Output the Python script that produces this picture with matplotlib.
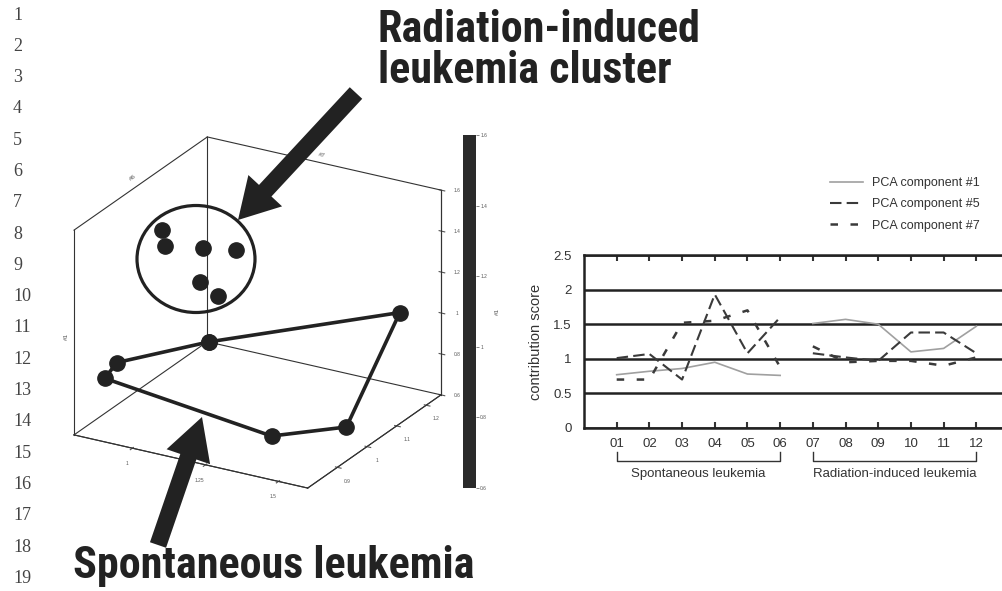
import matplotlib
matplotlib.use('Agg')
import matplotlib.pyplot as plt
import matplotlib.transforms as mtransforms
import numpy as np
from matplotlib.patches import Ellipse, FancyArrow
from matplotlib.colors import ListedColormap, Normalize
from matplotlib.cm import ScalarMappable
from mpl_toolkits.mplot3d import proj3d

W, H = 1002, 591

# left panel: PCA space (#7, #6, #1)
spont_x = [1.07, 1.53, 1.55, 1.39, 0.86, 0.87]
spont_y = [0.99, 1.18, 0.98, 0.885, 0.845, 0.875]
spont_z = [0.95, 1.05, 0.70, 0.70, 0.85, 0.90]
rad_x = [0.95, 0.98, 1.05, 1.14, 1.09, 1.15]
rad_y = [0.95, 0.93, 0.99, 1.01, 0.94, 0.94]
rad_z = [1.50, 1.45, 1.40, 1.40, 1.30, 1.25]
x3_lim = (0.8, 1.6)
y3_lim = (0.8, 1.25)
z3_lim = (0.6, 1.6)
x3_ticks = [1, 1.25, 1.5]
y3_ticks = [0.9, 1.0, 1.1, 1.2]
z3_ticks = [0.6, 0.8, 1.0, 1.2, 1.4, 1.6]
cbar_ticks = [0.6, 0.8, 1.0, 1.2, 1.4, 1.6]

# right panel: contribution scores per sample
samples = ['01', '02', '03', '04', '05', '06', '07', '08', '09', '10', '11', '12']
groups = [('Spontaneous leukemia', 0, 6), ('Radiation-induced leukemia', 6, 12)]
comp1 = [0.77, 0.82, 0.86, 0.95, 0.78, 0.76, 1.51, 1.57, 1.50, 1.10, 1.15, 1.47]
comp5 = [1.01, 1.07, 0.70, 1.93, 1.08, 1.60, 1.08, 1.02, 0.97, 1.38, 1.38, 1.08]
comp7 = [0.70, 0.70, 1.52, 1.55, 1.70, 0.88, 1.18, 0.95, 0.97, 0.97, 0.90, 1.02]

line_numbers = list(range(1, 20))

plt.rcParams['font.family'] = ['Liberation Sans', 'DejaVu Sans']
fig = plt.figure(figsize=(W / 100, H / 100), dpi=100)
fig.patch.set_facecolor('white')
ink = '#222222'


def px(x0, y0, w, h):
    # pixel box (top-left origin) -> figure fraction
    return [x0 / W, 1 - (y0 + h) / H, w / W, h / H]


# ---------- 3D scatter ----------
ax3 = fig.add_axes(px(40, 90, 450, 450), projection='3d', computed_zorder=False)
ax3.set_proj_type('ortho')
ax3.view_init(elev=23.5, azim=-60.3)
ax3.set_box_aspect((1, 1, 0.83))
ax3.set_facecolor('none')
ax3.grid(False)

# box frame (back edges + outline) from the axis limits
x0, x1 = x3_lim
y0, y1 = y3_lim
z0, z1 = z3_lim
edges = [((x0, x1), (y0, y0), (z0, z0)), ((x1, x1), (y0, y1), (z0, z0)),
         ((x0, x1), (y1, y1), (z0, z0)), ((x0, x0), (y0, y1), (z0, z0)),
         ((x0, x0), (y0, y0), (z0, z1)), ((x0, x0), (y1, y1), (z0, z1)),
         ((x1, x1), (y1, y1), (z0, z1)), ((x0, x0), (y0, y1), (z1, z1)),
         ((x0, x1), (y1, y1), (z1, z1))]
for ex, ey, ez in edges:
    ax3.plot(ex, ey, ez, color='#333333', lw=0.8, zorder=1)

ax3.plot(spont_x + spont_x[:1], spont_y + spont_y[:1], spont_z + spont_z[:1],
         color=ink, lw=2.6, marker='o', ms=11, mfc=ink, mec=ink, zorder=3)
ax3.plot(rad_x, rad_y, rad_z, ls='none', marker='o', ms=11, mfc=ink, mec=ink, zorder=3)
ax3.set_xlim(x3_lim)
ax3.set_ylim(y3_lim)
ax3.set_zlim(z3_lim)
ax3.set_xticks(x3_ticks)
ax3.set_yticks(y3_ticks)
ax3.set_zticks(z3_ticks)
ax3.set_xticklabels([f'{t:g}' for t in x3_ticks])
ax3.set_yticklabels([f'{t:g}' for t in y3_ticks])
ax3.set_zticklabels([f'{t:g}' for t in z3_ticks])
for axis in (ax3.xaxis, ax3.yaxis, ax3.zaxis):
    axis.set_pane_color((1, 1, 1, 0))
    axis.line.set_linewidth(0.8)
    axis.line.set_color('#333333')
ax3.zaxis.set_ticks_position('upper')
ax3.tick_params(axis='both', labelsize=3.5, pad=-1, colors='#555555')
ax3.tick_params(axis='z', labelsize=3.5, pad=-1, colors='#555555')

# fit the projected box onto the scanned frame
fig.canvas.draw()
corners = np.array([(a, b, c) for a in x3_lim for b in y3_lim for c in z3_lim])
sx, sy, _ = proj3d.proj_transform(corners[:, 0], corners[:, 1], corners[:, 2], ax3.M)
disp = ax3.transData.transform(np.column_stack([sx, sy]))
cur = [disp[:, 0].min(), disp[:, 0].max(), disp[:, 1].min(), disp[:, 1].max()]
tgt = [75, 440, H - 489, H - 136]
s = ((tgt[1] - tgt[0]) / (cur[1] - cur[0]) + (tgt[3] - tgt[2]) / (cur[3] - cur[2])) / 2
bb = ax3.get_position().transformed(fig.transFigure)
cx, cy = (bb.x0 + bb.x1) / 2, (bb.y0 + bb.y1) / 2
bx, by = (cur[0] + cur[1]) / 2, (cur[2] + cur[3]) / 2
tx, ty = (tgt[0] + tgt[1]) / 2, (tgt[2] + tgt[3]) / 2
ncx, ncy = tx - s * (bx - cx), ty - s * (by - cy)
nw, nh = bb.width * s, bb.height * s
ax3.set_position([(ncx - nw / 2) / W, (ncy - nh / 2) / H, nw / W, nh / H])

# colour bar
cax = fig.add_axes(px(463, 135, 13, 353))
cb = fig.colorbar(ScalarMappable(norm=Normalize(0.6, 1.6), cmap=ListedColormap(['#2a2a2a'])),
                  cax=cax, ticks=cbar_ticks)
cb.outline.set_visible(False)
cb.ax.set_yticklabels([f'{t:g}' for t in cbar_ticks])
cb.ax.tick_params(labelsize=3.5, length=2, width=0.5, colors='#555555', pad=1)
cb.set_label('#1', fontsize=4.5, color='#555555', labelpad=6)

# ---------- contribution score chart ----------
axr = fig.add_axes(px(584, 255, 425, 173))
xs = np.arange(1, len(samples) + 1)
series = [
    (comp1, 'PCA component #1', dict(color='#a0a0a0', lw=1.2)),
    (comp5, 'PCA component #5', dict(color='#3a3a3a', lw=1.5, dashes=(5.5, 2.5))),
    (comp7, 'PCA component #7', dict(color='#3a3a3a', lw=1.8, dashes=(3, 5))),
]
for vals, label, kw in series:
    vals = np.asarray(vals)
    for k, (_, i0, i1) in enumerate(groups):
        axr.plot(xs[i0:i1], vals[i0:i1], label=label if k == 0 else None, **kw)

axr.set_xlim(0, 13)
axr.set_ylim(0, 2.5)
axr.set_xticks(xs)
axr.set_xticklabels(samples)
yt = [0, 0.5, 1, 1.5, 2, 2.5]
axr.set_yticks(yt)
axr.set_yticklabels([f'{t:g}' for t in yt])
axr.yaxis.grid(True, color=ink, lw=1.8)
axr.set_axisbelow(True)
for sp in axr.spines.values():
    sp.set_linewidth(1.8)
    sp.set_color(ink)
axr.tick_params(axis='x', direction='in', top=True, length=4, width=1.5, pad=7,
                labelsize=9.5, colors='#333333')
axr.tick_params(axis='y', length=0, pad=9, labelsize=9.5, colors='#333333')
axr.set_ylabel('contribution score', fontsize=10.5, color='#333333', labelpad=7)

trans = mtransforms.blended_transform_factory(axr.transData, axr.transAxes)
for name, i0, i1 in groups:
    xa, xb = xs[i0], xs[i1 - 1]
    axr.plot([xa, xa, xb, xb], [-0.139, -0.191, -0.191, -0.139], transform=trans,
             clip_on=False, color='#333333', lw=1)
    axr.text((xa + xb) / 2, -0.266, name, transform=trans, ha='center', va='center',
             fontsize=9.5, color='#333333')

axr.legend(loc='upper left', bbox_to_anchor=(830 / W, 1 - 177 / H), bbox_transform=fig.transFigure,
           frameon=False, fontsize=9, handlelength=2.6, handletextpad=0.8, labelspacing=0.75,
           borderpad=0, borderaxespad=0, labelcolor='#333333')

# ---------- annotations overlay ----------
ov = fig.add_axes([0, 0, 1, 1])
ov.set_xlim(0, W)
ov.set_ylim(H, 0)
ov.axis('off')
ov.patch.set_alpha(0)

for i, n in enumerate(line_numbers):
    ov.text(13, 15 + 31.3 * i, str(n), family=['Liberation Serif', 'DejaVu Serif'],
            fontsize=13, va='center', ha='left', color='#444444')

title_font = dict(family=['DejaVu Sans Condensed', 'Liberation Sans Narrow', 'Roboto Condensed',
                          'DejaVu Sans'],
                  fontweight='bold', fontstretch='condensed', fontsize=32, color=ink,
                  va='baseline', ha='left')
renderer = fig.canvas.get_renderer()


def fit_title(x, y, txt, wpx, gap=None):
    # size the headline so it spans the same width as in the figure;
    # y is the baseline of the last line, gap the baseline-to-baseline distance
    t = ov.text(x, y, txt, **title_font)
    w = t.get_window_extent(renderer).width
    t.set_fontsize(t.get_fontsize() * wpx / w)
    if gap:
        _, h, d = renderer.get_text_width_height_descent('lp', t.get_fontproperties(), ismath=False)
        t.set_linespacing((gap - d) / (h - d))
    return t


fit_title(378, 83, 'Radiation-induced\nleukemia cluster', 324, gap=41)
fit_title(73, 578, 'Spontaneous leukemia', 402)

ov.add_patch(Ellipse((196, 259), 118, 107, fill=False, lw=2.3, ec=ink))
ov.add_patch(FancyArrow(356, 93, 238 - 356, 220 - 93, width=17, head_width=46, head_length=40,
                        length_includes_head=True, color=ink, lw=0))
ov.add_patch(FancyArrow(158, 545, 202 - 158, 417 - 545, width=17, head_width=46, head_length=42,
                        length_includes_head=True, color=ink, lw=0))

small = dict(fontsize=4.5, color='#555555', ha='center', va='center')
ov.text(133, 178, '#6', rotation=37, **small)
ov.text(322, 155, '#7', rotation=-13, **small)
ov.text(66, 337, '#1', rotation=90, **small)

fig.savefig('out.png', dpi=100, facecolor='white')
